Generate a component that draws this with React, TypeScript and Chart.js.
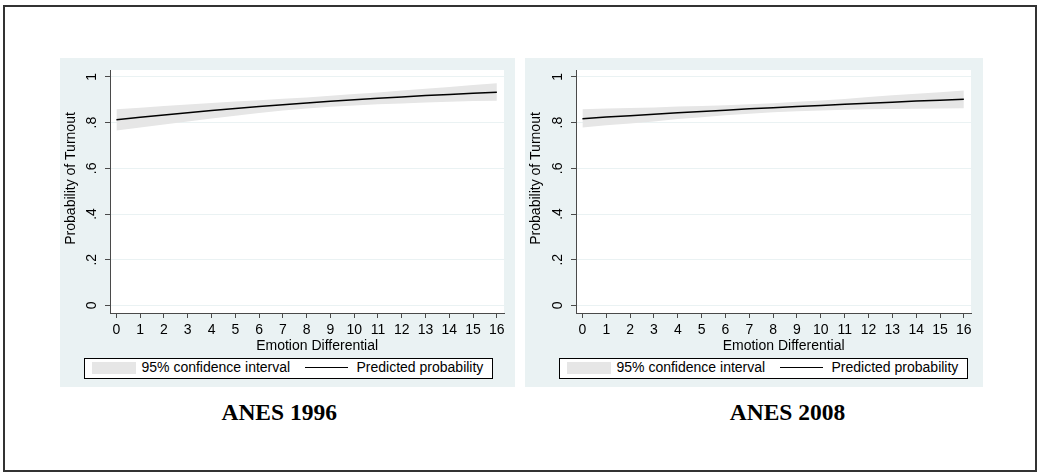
import React, { useEffect, useRef } from "react";
import { Chart, registerables } from "chart.js";

Chart.register(...registerables);

// ---------- data ----------
const xValues = [0, 1, 2, 3, 4, 5, 6, 7, 8, 9, 10, 11, 12, 13, 14, 15, 16];
const xTicks = [0, 1, 2, 3, 4, 5, 6, 7, 8, 9, 10, 11, 12, 13, 14, 15, 16];
const yTicks = [0, 0.2, 0.4, 0.6, 0.8, 1];
const yTickLabels = ["0", ".2", ".4", ".6", ".8", "1"];

const pred1996 = [0.812, 0.823, 0.833, 0.843, 0.853, 0.862, 0.87, 0.878, 0.886, 0.893, 0.9, 0.906, 0.912, 0.918, 0.923, 0.928, 0.933];
const upper1996 = [0.858, 0.865, 0.872, 0.879, 0.886, 0.892, 0.898, 0.904, 0.91, 0.917, 0.925, 0.932, 0.94, 0.948, 0.956, 0.964, 0.972];
const lower1996 = [0.765, 0.779, 0.792, 0.805, 0.818, 0.83, 0.842, 0.853, 0.862, 0.869, 0.875, 0.88, 0.884, 0.888, 0.891, 0.894, 0.896];

const pred2008 = [0.817, 0.824, 0.83, 0.836, 0.843, 0.848, 0.854, 0.86, 0.865, 0.87, 0.875, 0.88, 0.885, 0.889, 0.894, 0.898, 0.902];
const upper2008 = [0.858, 0.862, 0.864, 0.866, 0.87, 0.872, 0.876, 0.88, 0.885, 0.891, 0.897, 0.903, 0.912, 0.919, 0.926, 0.933, 0.94];
const lower2008 = [0.778, 0.788, 0.796, 0.805, 0.816, 0.823, 0.832, 0.839, 0.845, 0.85, 0.853, 0.856, 0.858, 0.859, 0.861, 0.862, 0.863];

const xTitle = "Emotion Differential";
const yTitle = "Probability of Turnout";
const legendCI = "95% confidence interval";
const legendLine = "Predicted probability";
const panelTitles = ["ANES 1996", "ANES 2008"];

// ---------- styles ----------
const SANS = "'Liberation Sans', Arial, sans-serif";
const SERIF = "'Liberation Serif', 'Times New Roman', serif";
const PANEL_BG = "#EAF2F3";
const BAND = "#E6E6E6";
const AXIS = "#4a4a4a";

type PanelProps = {
  left: number;
  width: number;
  axisW: number;
  rightPad: number;
  pred: number[];
  upper: number[];
  lower: number[];
  title: string;
  titleCenter: number;
  legendLeft: number;
};

const PANEL_TOP = 58;
const PANEL_H = 329;

function Panel(p: PanelProps) {
  const ref = useRef<HTMLCanvasElement | null>(null);

  useEffect(() => {
    if (!ref.current) return;
    const bgPlugin = {
      id: "bgPlugin",
      beforeDraw(chart: any) {
        const { ctx, chartArea } = chart;
        ctx.save();
        ctx.fillStyle = PANEL_BG;
        ctx.fillRect(0, 0, chart.width, chart.height);
        ctx.fillStyle = "#ffffff";
        ctx.fillRect(chartArea.left, chartArea.top, chartArea.right - chartArea.left, chartArea.bottom - chartArea.top);
        ctx.restore();
      },
    };
    const titlePlugin = {
      id: "axisTitles",
      afterDraw(chart: any) {
        const { ctx, chartArea } = chart;
        const xs = chart.scales.x;
        const ys = chart.scales.y;
        ctx.save();
        ctx.font = `14px ${SANS}`;
        ctx.fillStyle = "#000";
        ctx.textAlign = "center";
        ctx.textBaseline = "middle";
        ctx.fillText(xTitle, xs.getPixelForValue(8) + 10.5, chartArea.bottom + 33);
        ctx.translate(11.5, ys.getPixelForValue(0.5) - 12.7);
        ctx.rotate(-Math.PI / 2);
        ctx.fillText(yTitle, 0, 0);
        ctx.restore();
      },
    };

    const chart = new Chart(ref.current, {
      type: "line",
      data: {
        labels: xValues,
        datasets: [
          {
            label: "lower",
            data: xValues.map((x, i) => ({ x, y: p.lower[i] })),
            borderWidth: 0,
            borderColor: "rgba(0,0,0,0)",
            pointRadius: 0,
            fill: false,
            order: 2,
          },
          {
            label: legendCI,
            data: xValues.map((x, i) => ({ x, y: p.upper[i] })),
            borderWidth: 0,
            borderColor: "rgba(0,0,0,0)",
            backgroundColor: BAND,
            pointRadius: 0,
            fill: "-1",
            order: 1,
          },
          {
            label: legendLine,
            data: xValues.map((x, i) => ({ x, y: p.pred[i] })),
            borderWidth: 1.5,
            borderColor: "#000",
            pointRadius: 0,
            fill: false,
            order: 0,
          },
        ],
      },
      options: {
        animation: false,
        responsive: false,
        maintainAspectRatio: false,
        events: [],
        layout: { padding: { left: 0, top: 12, right: p.rightPad, bottom: 0 } },
        plugins: { legend: { display: false }, tooltip: { enabled: false } },
        scales: {
          x: {
            type: "linear",
            min: -0.27,
            max: 16.3,
            afterBuildTicks: (s: any) => {
              s.ticks = xTicks.map((v) => ({ value: v }));
            },
            afterFit: (s: any) => {
              s.height = PANEL_H - 255;
              s.paddingLeft = 0;
              s.paddingRight = 0;
            },
            grid: { drawOnChartArea: false, drawTicks: true, tickLength: 5, tickColor: AXIS, color: AXIS, lineWidth: 1 },
            border: { display: true, color: AXIS, width: 1 },
            ticks: {
              autoSkip: false,
              maxRotation: 0,
              minRotation: 0,
              padding: 3.5,
              color: "#000",
              font: { family: SANS, size: 14 },
              callback: (v: any) => String(v),
            },
          },
          y: {
            type: "linear",
            min: -0.033,
            max: 1.03,
            afterBuildTicks: (s: any) => {
              s.ticks = yTicks.map((v) => ({ value: v }));
            },
            afterFit: (s: any) => {
              s.width = p.axisW;
              s.paddingTop = 0;
              s.paddingBottom = 0;
            },
            grid: { drawOnChartArea: true, drawTicks: true, tickLength: 5, color: PANEL_BG, tickColor: AXIS, lineWidth: 1 },
            border: { display: true, color: AXIS, width: 1 },
            ticks: {
              autoSkip: false,
              minRotation: 90,
              maxRotation: 90,
              crossAlign: "center",
              padding: 7,
              color: "#000",
              font: { family: SANS, size: 14 },
              callback: (v: any) => {
                const idx = yTicks.findIndex((t) => Math.abs(t - Number(v)) < 1e-9);
                return idx >= 0 ? yTickLabels[idx] : "";
              },
            },
          },
        },
      },
      plugins: [bgPlugin, titlePlugin],
    } as any);
    return () => chart.destroy();
  }, [p]);

  const legendTop = 358;
  return (
    <>
      <canvas
        ref={ref}
        width={p.width}
        height={PANEL_H}
        style={{ position: "absolute", left: p.left, top: PANEL_TOP, width: p.width, height: PANEL_H, display: "block" }}
      />
      <div
        style={{
          position: "absolute",
          left: p.legendLeft,
          top: legendTop,
          width: 409,
          height: 21,
          boxSizing: "border-box",
          border: "1px solid #000",
          background: "#fff",
          fontFamily: SANS,
          fontSize: 14,
          color: "#000",
        }}
      >
        <div style={{ position: "absolute", left: 7, top: 3, width: 44, height: 12, background: BAND }} />
        <div style={{ position: "absolute", left: 56.5, top: -1, lineHeight: "19px", whiteSpace: "nowrap" }}>{legendCI}</div>
        <div style={{ position: "absolute", left: 220, top: 7.5, width: 43, height: 1.5, background: "#000" }} />
        <div style={{ position: "absolute", left: 271.5, top: -1, lineHeight: "19px", whiteSpace: "nowrap" }}>{legendLine}</div>
      </div>
      <div
        style={{
          position: "absolute",
          left: p.titleCenter - 150,
          top: 400.8,
          width: 300,
          textAlign: "center",
          fontFamily: SERIF,
          fontWeight: "bold",
          fontSize: 23.5,
          lineHeight: "23.5px",
          color: "#000",
          whiteSpace: "nowrap",
        }}
      >
        {p.title}
      </div>
    </>
  );
}

const panel1 = { left: 60, width: 455, axisW: 50, rightPad: 11, pred: pred1996, upper: upper1996, lower: lower1996, title: panelTitles[0], titleCenter: 279.2, legendLeft: 84 };
const panel2 = { left: 525, width: 458, axisW: 51, rightPad: 12, pred: pred2008, upper: upper2008, lower: lower2008, title: panelTitles[1], titleCenter: 787.5, legendLeft: 559 };

export default function App() {
  return (
    <div style={{ position: "absolute", left: 0, top: 0, width: 1042, height: 476, background: "#fff", overflow: "hidden" }}>
      <div
        style={{
          position: "absolute",
          left: 3,
          top: 5,
          width: 1034,
          height: 467,
          boxSizing: "border-box",
          border: "2px solid #333",
        }}
      />
      <Panel {...panel1} />
      <Panel {...panel2} />
    </div>
  );
}
